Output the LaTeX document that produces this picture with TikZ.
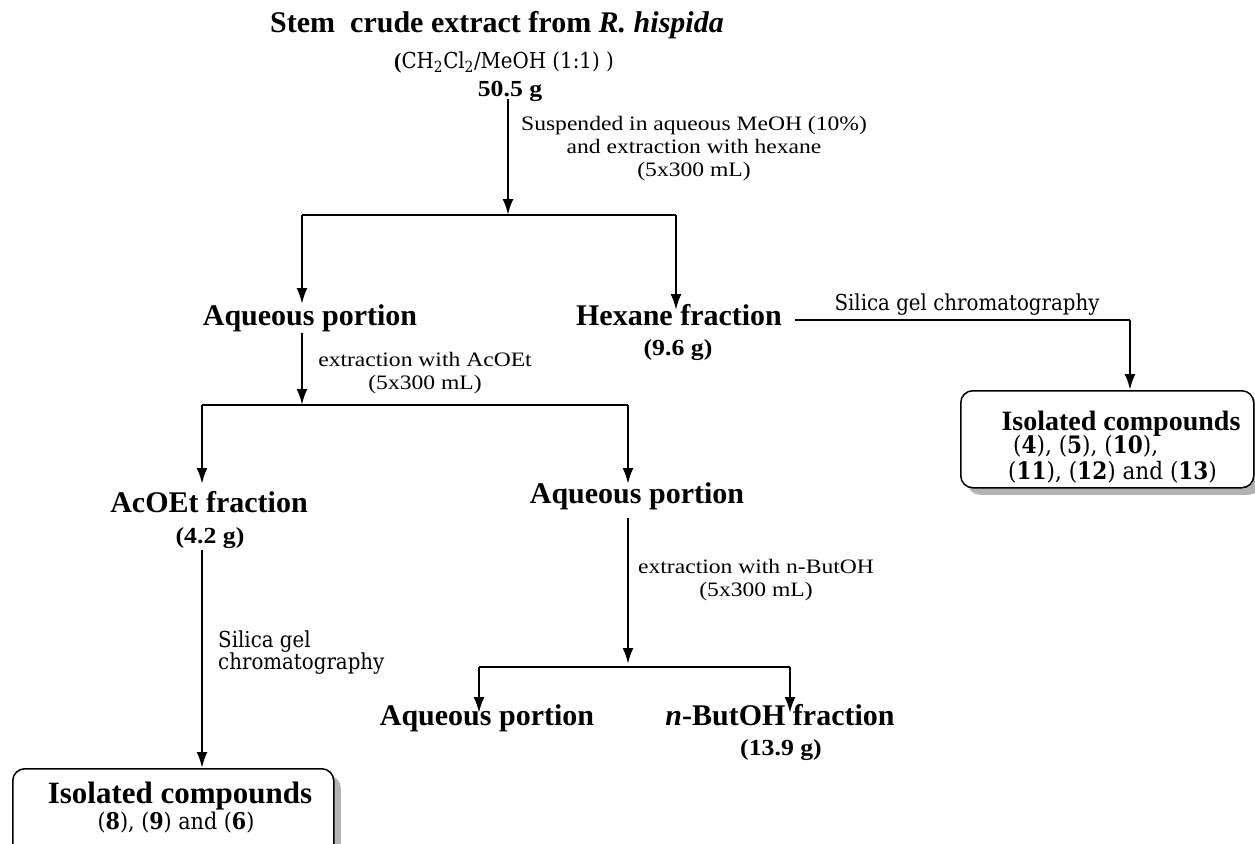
\documentclass[tikz,border=0pt]{standalone}
\usepackage{graphicx}
\usepackage{fontspec}
\setmainfont{Liberation Serif}
\newfontfamily\camb{DejaVu Serif Condensed}
\newcommand\hstretch[1]{\scalebox{1.15}[1]{#1}}
\newcommand\mstretch[1]{\scalebox{1.12}[1]{#1}}
\usetikzlibrary{arrows.meta,shadows}
\begin{document}
\begin{tikzpicture}[x=1pt,y=-1pt,
  big/.style={font=\fontsize{30}{34}\selectfont\bfseries, inner sep=0pt, anchor=base},
  mid/.style={font=\fontsize{23}{26}\selectfont\bfseries, inner sep=0pt, anchor=base},
  lab/.style={font=\fontsize{20.5}{23}\selectfont, align=center, inner sep=0pt},
  clab/.style={font=\camb\fontsize{22}{22}\selectfont, inner sep=0pt},
  cnum/.style={font=\camb\fontsize{24}{28}\selectfont, inner sep=0pt, anchor=base west},
  ar/.style={line width=2.4pt,-{Latex[length=16pt,width=11pt]}},
  bar/.style={line width=1.5pt},
  cbox/.style={draw, line width=1.5pt, rounded corners=12pt, fill=white,
    drop shadow={shadow xshift=7pt, shadow yshift=-7pt, fill=black!30, opacity=1}},
]
\useasboundingbox (0,0) rectangle (1255,843);

% top
\node[big] (title) at (497,33) {Stem\ \ crude extract from \textit{R. hispida}};
\node[font=\camb\fontsize{22}{26}\selectfont, inner sep=0pt, anchor=base] (chem) at (504,68)
  {\textbf{\rmfamily(}CH\textsubscript{2}Cl\textsubscript{2}/MeOH (1:1) )};
\node[mid] (w50) at (510,96) {\mstretch{50.5 g}};
\coordinate (s1) at (508,99);
\coordinate (b1) at (508,215);
\coordinate (b1l) at (302,215);
\coordinate (b1r) at (676,215);
\draw[ar] (s1) -- (b1);
\node[lab] (l1) at (694,149) {\hstretch{Suspended in aqueous MeOH (10\%)}\\\hstretch{and extraction with hexane}\\\hstretch{(5x300 mL)}};
\draw[bar] (b1l) -- (b1r);

% second level
\node[big] (aq1) at (310,325) {Aqueous portion};
\node[big] (hex) at (679,325) {Hexane fraction};
\node[mid] (w96) at (678,355) {\mstretch{(9.6 g)}};
\coordinate (t1) at (302,304);
\coordinate (t2) at (676,310);
\draw[ar] (b1l) -- (t1);
\draw[ar] (b1r) -- (t2);

% hexane branch
\node[cbox, minimum width=293pt, minimum height=97pt, anchor=north west] (box1) at (960,390) {};
\node[big, font=\fontsize{28}{32}\selectfont\bfseries] (iso1) at (1121,430) {Isolated compounds};
\node[cnum] (c1) at (1013,453) {(\textbf{4}), (\textbf{5}), (\textbf{10}),};
\node[cnum] (c2) at (1008,479) {(\textbf{11}), (\textbf{12}) and (\textbf{13})};
\coordinate (h0) at (795,320);
\coordinate (h1) at (1130,320);
\draw[bar] (h0) -- (h1);
\draw[ar] (h1) -- (box1.north -| h1);
\node[clab, anchor=base] (l2) at (967,310) {Silica gel chromatography};

% aqueous 1 -> AcOEt
\coordinate (a1) at (302,333);
\coordinate (b2) at (302,405);
\coordinate (b2l) at (202,405);
\coordinate (b2r) at (628,405);
\draw[ar] (a1) -- (b2);
\node[lab] (l3) at (425,373) {\hstretch{extraction with AcOEt}\\\hstretch{(5x300 mL)}};
\draw[bar] (b2l) -- (b2r);
\node[big] (acf) at (209,512) {AcOEt fraction};
\node[mid] (w42) at (210,543) {\mstretch{(4.2 g)}};
\node[big] (aq2) at (637,503) {Aqueous portion};
\coordinate (t3) at (202,484);
\coordinate (t4) at (628,484);
\draw[ar] (b2l) -- (t3);
\draw[ar] (b2r) -- (t4);

% aqueous 2 -> n-ButOH
\coordinate (a2) at (628,518);
\coordinate (b3) at (628,664);
\coordinate (b3l) at (479,667);
\coordinate (b3r) at (790,667);
\draw[ar] (a2) -- (b3);
\node[lab] (l4) at (756,580) {\hstretch{extraction with n-ButOH}\\\hstretch{(5x300 mL)}};
\draw[bar] (b3l) -- (b3r);
\node[big] (aq3) at (487,725) {Aqueous portion};
\node[big] (nbu) at (780,725) {\textit{n}-ButOH fraction};
\node[mid] (w139) at (781,755) {\mstretch{(13.9 g)}};
\coordinate (t5) at (479,713);
\coordinate (t6) at (790,713);
\draw[ar] (b3l) -- (t5);
\draw[ar] (b3r) -- (t6);

% AcOEt branch
\node[cbox, minimum width=321pt, minimum height=100pt, anchor=north west] (box2) at (12,768) {};
\node[big, font=\fontsize{31}{34}\selectfont\bfseries] (iso2) at (180,803) {Isolated compounds};
\node[cnum, font=\camb\fontsize{23}{26}\selectfont, anchor=base] (c3) at (176,829)
  {(\textbf{8}), (\textbf{9}) and (\textbf{6})};
\coordinate (a0) at (202,550);
\draw[ar] (a0) -- (box2.north -| a0);
\node[clab, align=left, anchor=west, font=\camb\fontsize{22}{22}\selectfont] (l5) at (218,653) {Silica gel\\chromatography};
\end{tikzpicture}
\end{document}
